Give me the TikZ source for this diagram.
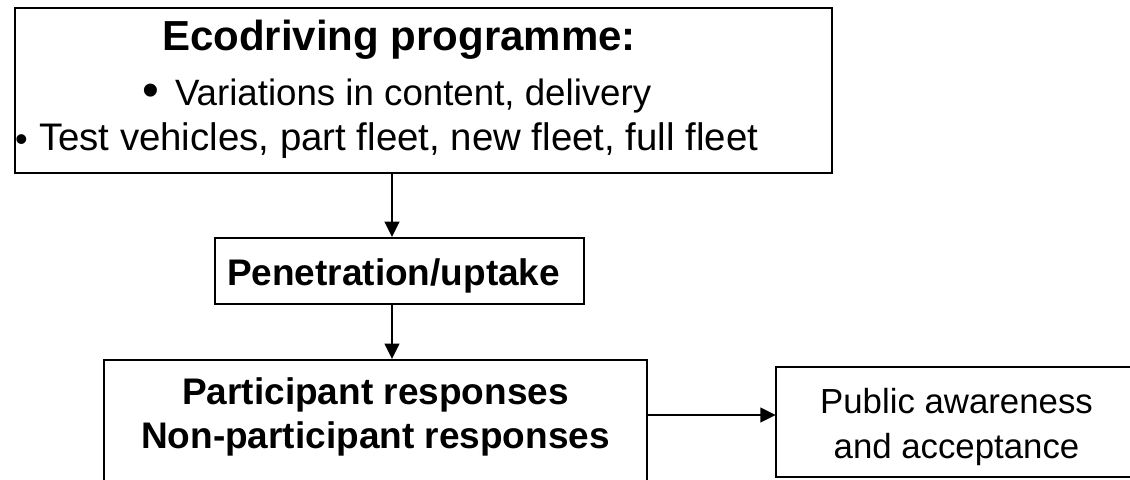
\documentclass[tikz,border=0pt]{standalone}
\usepackage{fontspec}
\setmainfont{Liberation Sans}
\usetikzlibrary{arrows.meta}

\tikzset{
  box/.style={draw=black, line width=1.5pt, rectangle, inner sep=0pt, fill=none},
  mainbox/.style={box, line width=2.2pt},
  openbox/.style={rectangle, inner sep=0pt},
  edge/.style={draw=black, line width=1.5pt},
  arr/.style={draw=black, line width=1.5pt, -{Triangle[length=11.5pt, width=11pt]}},
  txt/.style={inner sep=0pt, outer sep=0pt, text=black},
}

\begin{document}
\begin{tikzpicture}[x=0.75pt, y=-0.75pt]
  % canvas (pixel-like units, y downwards)
  \useasboundingbox (0,0) rectangle (1130,479);
  \clip (0,0) rectangle (1130,479);
  \fill[white] (0,0) rectangle (1130,479);

  % boxes
  \node[mainbox, minimum width=612.75pt, minimum height=123.75pt] (prog) at (423.5,90.5) {};
  \node[box, minimum width=276.75pt, minimum height=49.5pt] (pen) at (399.5,271) {};
  \node[box, minimum width=407.25pt, minimum height=120pt] (resp) at (375.5,440) {};
  \node[openbox, minimum width=420pt, minimum height=82.5pt] (pub) at (1056,422) {};
  \draw[edge] (pub.north east) -- (pub.north west) -- (pub.south west) -- (pub.south east);

  % texts of the programme box
  \node[txt, anchor=base west, font=\bfseries\fontsize{31.5}{36}\selectfont] (title) at (162,50) {Ecodriving programme:};
  \node[txt, anchor=base west, font=\fontsize{36}{40}\selectfont] (b1) at (142,106) {•};
  \node[txt, anchor=base west, font=\fontsize{27.5}{32}\selectfont] (l1) at (175,105) {Variations in content, delivery};
  \node[txt, anchor=base west, font=\fontsize{27}{32}\selectfont] (b2) at (15,151) {•};
  \node[txt, anchor=base west, font=\fontsize{28.8}{32}\selectfont] (l2) at (39,150) {Test vehicles, part fleet, new fleet, full fleet};

  % texts of the other boxes
  \node[txt, anchor=base west, font=\bfseries\fontsize{27.75}{32}\selectfont] (pent) at (227,285) {Penetration/uptake};
  \node[txt, anchor=base, font=\bfseries\fontsize{27.75}{32}\selectfont] (r1) at (375.5,404) {Participant responses};
  \node[txt, anchor=base, font=\bfseries\fontsize{27.75}{32}\selectfont] (r2) at (375.5,448) {Non-participant responses};
  \node[txt, anchor=base, font=\fontsize{26.1}{30}\selectfont] (p1) at (956.5,413) {Public awareness};
  \node[txt, anchor=base, font=\fontsize{26.1}{30}\selectfont] (p2) at (956.5,458) {and acceptance};

  % connector guides
  \coordinate (axis) at (392,0);
  \coordinate (row) at (0,415);

  % connectors
  \draw[arr] (prog.south -| axis) -- (pen.north -| axis);
  \draw[arr] (pen.south -| axis) -- (resp.north -| axis);
  \draw[arr] (resp.east |- row) -- (pub.west |- row);
\end{tikzpicture}
\end{document}
